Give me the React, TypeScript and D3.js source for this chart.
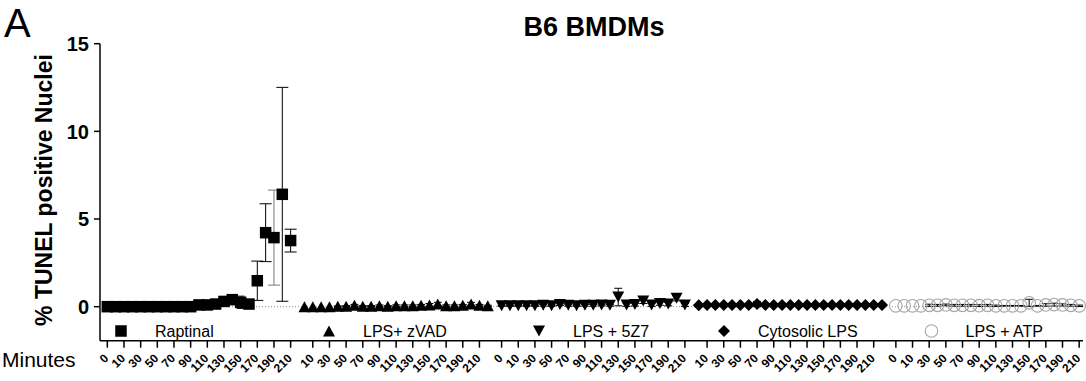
import * as d3 from 'd3'

// treatment groups, left to right
const SERIES = ['Raptinal', 'LPS+ zVAD', 'LPS + 5Z7', 'Cytosolic LPS', 'LPS + ATP']
const SHAPES = ['square', 'triangle', 'triangleDown', 'diamond', 'circle']

// tick labels under each group (groups 2 and 4 have no "0")
const LABELS_FULL = ['0', '10', '30', '50', '70', '90', '110', '130', '150', '170', '190', '210']
const LABELS_SHORT = ['10', '30', '50', '70', '90', '110', '130', '150', '170', '190', '210']
const GROUP_LABELS = [LABELS_FULL, LABELS_SHORT, LABELS_FULL, LABELS_SHORT, LABELS_FULL]

const Y_TICKS = [0, 5, 10, 15]

// % TUNEL positive nuclei, 23 timepoints per group (mean, error)
const raptinal = [0, 0, 0, 0, 0, 0, 0, 0, 0, 0, 0, 0.1, 0.1, 0.15, 0.3, 0.4, 0.25, 0.15, 1.48, 4.22, 3.94, 6.41, 3.77]
const raptinalErr = [0, 0, 0, 0, 0, 0, 0, 0, 0, 0, 0, 0.05, 0.05, 0.05, 0.1, 0.05, 0.35, 0.1, 1.12, 1.65, 2.71, 6.1, 0.65]

const zvad = [0, 0, 0, 0, 0.02, 0.03, 0.08, 0.03, 0.03, 0.05, 0.03, 0.05, 0.05, 0.05, 0.08, 0.1, 0.15, 0.05, 0.05, 0.08, 0.15, 0.08, 0.05]
const zvadErr = [0, 0, 0, 0, 0.02, 0.03, 0.05, 0.03, 0.03, 0.05, 0.03, 0.05, 0.05, 0.05, 0.05, 0.08, 0.1, 0.05, 0.05, 0.05, 0.1, 0.05, 0.03]

const fiveZ7 = [0.05, 0.05, 0.05, 0.05, 0.05, 0.08, 0.05, 0.12, 0.08, 0.05, 0.08, 0.08, 0.1, 0.08, 0.55, 0.1, 0.12, 0.33, 0.1, 0.18, 0.15, 0.48, 0.1]
const fiveZ7Err = [0.03, 0.03, 0.03, 0.03, 0.03, 0.05, 0.03, 0.05, 0.05, 0.03, 0.05, 0.05, 0.05, 0.05, 0.5, 0.08, 0.08, 0.15, 0.08, 0.1, 0.1, 0.15, 0.08]

const cytoLps = [0.08, 0.1, 0.1, 0.1, 0.1, 0.1, 0.1, 0.15, 0.1, 0.1, 0.1, 0.1, 0.1, 0.1, 0.1, 0.1, 0.1, 0.1, 0.1, 0.1, 0.1, 0.1, 0.1]
const cytoLpsErr = [0.02, 0.02, 0.02, 0.02, 0.02, 0.02, 0.03, 0.15, 0.03, 0.02, 0.02, 0.02, 0.02, 0.02, 0.02, 0.02, 0.02, 0.03, 0.02, 0.02, 0.02, 0.02, 0.02]

const lpsAtp = [0.05, 0.05, 0.05, 0.05, 0.08, 0.08, 0.1, 0.08, 0.08, 0.08, 0.06, 0.08, 0.05, 0.05, 0.05, 0.05, 0.22, 0.05, 0.1, 0.12, 0.1, 0.08, 0.05]
const lpsAtpErr = [0, 0, 0, 0, 0.06, 0.05, 0.05, 0.05, 0.05, 0.05, 0.05, 0.05, 0.04, 0.02, 0.02, 0.02, 0.2, 0.02, 0.07, 0.08, 0.06, 0.05, 0.04]

const VALUES = [raptinal, zvad, fiveZ7, cytoLps, lpsAtp]
const ERRORS = [raptinalErr, zvadErr, fiveZ7Err, cytoLpsErr, lpsAtpErr]

// layout
const W = 1086
const H = 381
const GROUP_STEP = 23.66
const LEGEND_X = [121, 329, 539, 724, 931.5]
const FONT = '"Liberation Sans", Arial, Helvetica, sans-serif'

function Marker({ shape, x, y }: { shape: string; x: number; y: number }) {
  if (shape === 'square') {
    const s = 11.5
    return <rect x={x - s / 2} y={y - s / 2} width={s} height={s} fill="#000" />
  }
  if (shape === 'triangle') {
    const w = 12, h = 11
    return <path d={`M${x},${y - h / 2}L${x + w / 2},${y + h / 2}L${x - w / 2},${y + h / 2}Z`} fill="#000" />
  }
  if (shape === 'triangleDown') {
    const w = 12, h = 11
    return <path d={`M${x},${y + h / 2}L${x + w / 2},${y - h / 2}L${x - w / 2},${y - h / 2}Z`} fill="#000" />
  }
  if (shape === 'diamond') {
    const r = 6
    return <path d={`M${x},${y - r}L${x + r},${y}L${x},${y + r}L${x - r},${y}Z`} fill="#000" />
  }
  return <circle cx={x} cy={y} r={6.3} fill="none" stroke="#a6a6a6" strokeWidth={1.1} />
}

export default function App() {
  const x = d3.scaleLinear().domain([-0.88, 117.1]).range([100, 1083])
  const y = d3.scaleLinear().domain([-1.94, 15]).range([340.7, 43.7])
  const x0 = x.range()[0]
  const x1 = x.range()[1]
  const yBase = y(-1.94)

  const pos = (g: number, k: number) => x(g * GROUP_STEP + k)

  return (
    <svg width={W} height={H} style={{ position: 'absolute', left: 0, top: 0, background: '#fff' }} fontFamily={FONT}>
      {/* panel letter and title */}
      <text x={4} y={37} fontSize={40}>A</text>
      <text x={594} y={36} fontSize={27} fontWeight="bold" textAnchor="middle">B6 BMDMs</text>

      {/* y axis */}
      <line x1={x0} x2={x0} y1={y(15)} y2={yBase} stroke="#000" strokeWidth={1.5} />
      {Y_TICKS.map(t => (
        <g key={t}>
          <line x1={x0 - 6} x2={x0} y1={y(t)} y2={y(t)} stroke="#000" strokeWidth={1.5} />
          <text x={x0 - 11} y={y(t)} dy="0.36em" fontSize={20} fontWeight="bold" textAnchor="end">{t}</text>
        </g>
      ))}
      <text transform={`translate(52, 190) rotate(-90)`} fontSize={23} fontWeight="bold" textAnchor="middle">
        % TUNEL positive Nuclei
      </text>

      {/* zero reference */}
      <line x1={x0} x2={x1} y1={y(0)} y2={y(0)} stroke="#777" strokeWidth={0.8} strokeDasharray="1,2" />

      {/* x axis */}
      <line x1={x0} x2={x1} y1={yBase} y2={yBase} stroke="#000" strokeWidth={1.5} />
      {GROUP_LABELS.map((labels, g) =>
        labels.map((lab, i) => {
          const k = labels.length === 12 ? i * 2 : i * 2 + 1
          const tx = pos(g, k)
          return (
            <g key={`${g}-${i}`}>
              <line x1={tx} x2={tx} y1={yBase} y2={yBase + 7} stroke="#000" strokeWidth={1.5} />
              <text
                transform={`translate(${tx - 1}, 356) rotate(-45)`}
                dy="0.35em"
                fontSize={12}
                fontWeight="bold"
                textAnchor="end"
              >
                {lab}
              </text>
            </g>
          )
        })
      )}
      <text x={2} y={367} fontSize={21}>Minutes</text>

      {/* error bars */}
      {VALUES.map((vals, g) =>
        vals.map((v, k) => {
          const e = ERRORS[g][k]
          if (!e) return null
          const cx = pos(g, k)
          const cap = e > 0.5 ? 6 : 4
          const col = g === 0 && k === 20 ? '#777' : '#000'
          return (
            <g key={`e${g}-${k}`} stroke={col} strokeWidth={1}>
              <line x1={cx} x2={cx} y1={y(v + e)} y2={y(v - e)} />
              <line x1={cx - cap} x2={cx + cap} y1={y(v + e)} y2={y(v + e)} />
              <line x1={cx - cap} x2={cx + cap} y1={y(v - e)} y2={y(v - e)} />
            </g>
          )
        })
      )}

      {/* points */}
      {VALUES.map((vals, g) =>
        vals.map((v, k) => <Marker key={`p${g}-${k}`} shape={SHAPES[g]} x={pos(g, k)} y={y(v)} />)
      )}

      {/* legend */}
      {SERIES.map((name, g) => (
        <g key={name}>
          <Marker shape={SHAPES[g]} x={LEGEND_X[g]} y={331} />
          <text x={LEGEND_X[g] + 34} y={337} fontSize={16}>{name}</text>
        </g>
      ))}
    </svg>
  )
}
